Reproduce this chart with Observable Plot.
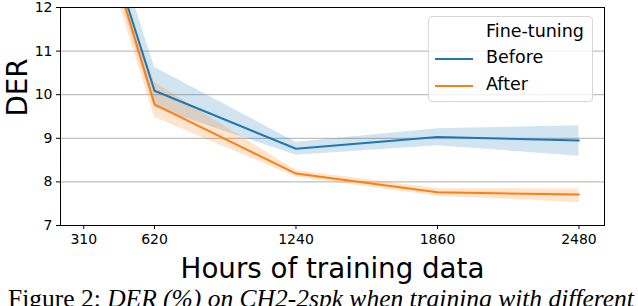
<!DOCTYPE html>
<html>
<head>
<meta charset="utf-8">
<script src="https://cdn.jsdelivr.net/npm/d3@7"></script>
<script src="https://cdn.jsdelivr.net/npm/@observablehq/plot@0.6"></script>
<style>
  body { margin: 0; background: #fff; }
  #wrap { position: relative; width: 638px; height: 306px; overflow: hidden; font-family: "DejaVu Sans", sans-serif; }
  #legend { position: absolute; left: 428px; top: 16px; width: 165px; height: 86px; box-sizing: border-box;
    border: 1px solid #d6d6d6; border-radius: 4px; background: rgba(255,255,255,0.8); font-size: 17.5px; color: #000; }
  #legend .t { position: absolute; left: 57px; top: 4px; }
  #legend .row { position: absolute; left: 0; }
  #legend .sw { position: absolute; left: 6px; width: 38px; height: 0; border-top: 2px solid; }
  #legend .lb { position: absolute; left: 57px; white-space: nowrap; }
  #caption { position: absolute; left: 8px; top: 284px; white-space: nowrap; font-family: "Liberation Serif", "Times New Roman", serif; font-size: 25.5px; line-height: 29px; color: #000; }
</style>
</head>
<body>
<div id="wrap">
  <div id="chart"></div>
  <div id="legend"></div>
  <div id="caption"></div>
</div>
<script>
const hours = [310, 620, 1240, 1860, 2480];
const beforeMean = [15.2, 10.09, 8.76, 9.03, 8.95];
const beforeLow  = [14.9, 9.70, 8.61, 8.83, 8.59];
const beforeHigh = [15.7, 10.63, 8.91, 9.22, 9.29];
const afterMean  = [15.2, 9.78, 8.19, 7.76, 7.71];
const afterLow   = [14.7, 9.48, 8.11, 7.67, 7.53];
const afterHigh  = [14.95, 10.28, 8.26, 7.85, 7.84];
const yTicks = [7, 8, 9, 10, 11, 12];
const gridTicks = [8, 9, 10, 11];
const seriesNames = ["Before", "After"];
const colors = ["#1f77b4", "#ff7f0e"];
const legendTitle = "Fine-tuning";
const xLabel = "Hours of training data";
const yLabel = "DER";

const rows = [];
hours.forEach((h, i) => {
  rows.push({h, s: "Before", m: beforeMean[i], lo: beforeLow[i], hi: beforeHigh[i]});
  rows.push({h, s: "After", m: afterMean[i], lo: afterLow[i], hi: afterHigh[i]});
});

const chart = Plot.plot({
  width: 638,
  height: 306,
  marginLeft: 60,
  marginRight: 34,
  marginTop: 7,
  marginBottom: 81,
  style: {fontFamily: "DejaVu Sans, sans-serif", background: "white", color: "black", overflow: "visible"},
  x: {domain: [208, 2592]},
  y: {domain: [7, 12]},
  color: {domain: seriesNames, range: colors},
  marks: [
    Plot.gridY(gridTicks, {stroke: "#b0b0b0", strokeOpacity: 1, strokeWidth: 1}),
    Plot.areaY(rows, {x: "h", y1: "lo", y2: "hi", z: "s", fill: "s", fillOpacity: 0.2, clip: true}),
    Plot.lineY(rows, {x: "h", y: "m", z: "s", stroke: "s", strokeWidth: 2, clip: true}),
    Plot.frame({stroke: "black", strokeWidth: 1}),
    Plot.axisY({ticks: yTicks, tickSize: 4, tickPadding: 4, fontSize: 14, label: null, tickFormat: d => String(d)}),
    Plot.axisX({ticks: hours, tickSize: 4, tickPadding: 5, fontSize: 14, label: null, tickFormat: d => String(d)}),
    Plot.text([xLabel], {frameAnchor: "bottom", dy: 52, fontSize: 27.7, fill: "black", text: d => d}),
    Plot.text([yLabel], {frameAnchor: "left", dx: -42, rotate: -90, fontSize: 27.7, fill: "black", text: d => d})
  ]
});
document.getElementById("chart").appendChild(chart);

const lg = document.getElementById("legend");
const t = document.createElement("div");
t.className = "t"; t.textContent = legendTitle; lg.appendChild(t);
seriesNames.forEach((name, i) => {
  const sw = document.createElement("div");
  sw.className = "sw"; sw.style.borderColor = colors[i]; sw.style.top = (41 + i * 27) + "px";
  lg.appendChild(sw);
  const lb = document.createElement("div");
  lb.className = "lb"; lb.textContent = name; lb.style.top = (30 + i * 27) + "px";
  lg.appendChild(lb);
});

document.getElementById("caption").innerHTML = "Figure 2: <i>DER (%) on CH2-2spk when training with different</i>";
</script>
</body>
</html>
